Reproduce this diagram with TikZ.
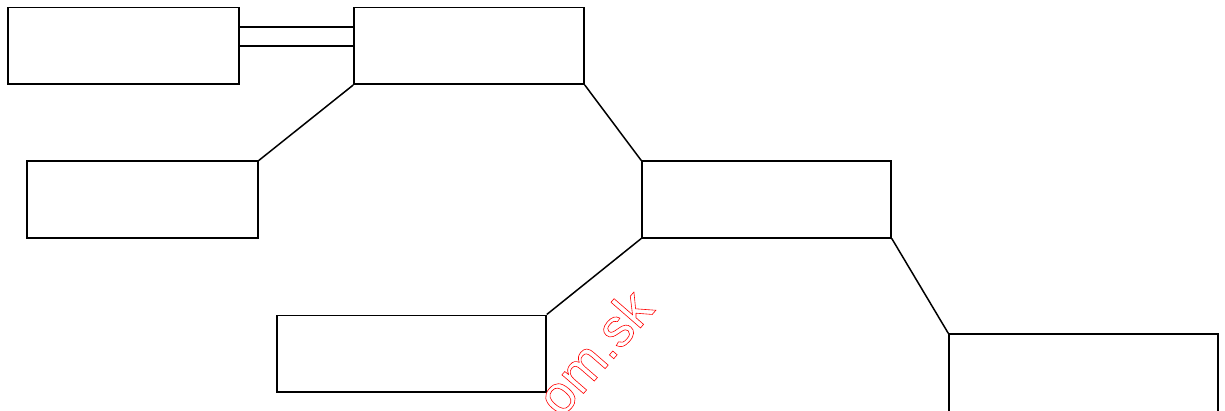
\documentclass[tikz,border=0pt]{standalone}
\usepackage{fontspec}
\usepackage{xcolor}
\usetikzlibrary{positioning,calc}
\newfontfamily\wmfont{Liberation Sans}
\definecolor{Wc}{HTML}{FF0000}
\tikzset{
  blk/.style={rectangle, draw=black, line width=1.5pt, inner sep=0pt, minimum height=76.5pt},
  link/.style={line width=1.5pt},
  wmark/.style={font=\wmfont\fontsize{54}{54}\selectfont, text=Wc, inner sep=0pt},
}
\newcommand{\outline}[1]{\special{pdf:literal direct 1 Tr 0.6 w}#1\special{pdf:literal direct 0 Tr}}

\begin{document}
\begin{tikzpicture}[x=1pt,y=1pt]
  \useasboundingbox (0,0) rectangle (1225,410);
  \node[blk, minimum width=231pt] (lu) at (123.5,364) {};
  \node[blk, minimum width=230pt] (mu) at (469,364) {};
  \node[blk, minimum width=231pt] (lm) at (142.5,210.5) {};
  \node[blk, minimum width=249pt] (rm) at (766.5,210.5) {};
  \node[blk, minimum width=269pt] (ld) at (411.5,56.5) {};
  \node[blk, minimum width=269pt, minimum height=78pt] (rd) at (1083.5,37) {};
  % double tie between the top pair
  \draw[link] (lu.east) -- (mu.west);
  \draw[link] ([yshift=19pt]lu.east) -- ([yshift=19pt]mu.west);
  \draw[link] (mu.south west) -- (lm.north east);
  \draw[link] (mu.south east) -- (rm.north west);
  \draw[link] (rm.south west) -- (ld.north east);
  \draw[link] (rm.south east) -- (rd.north west);
  \node[wmark, rotate=49] (wm) at (594,58) {\outline{om.sk}};
\end{tikzpicture}
\end{document}
